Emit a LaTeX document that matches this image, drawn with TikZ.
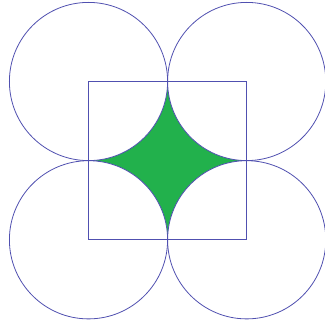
\documentclass[tikz,border=0pt]{standalone}
\definecolor{lineblue}{RGB}{80,80,176}
\definecolor{stargreen}{RGB}{34,177,76}
\tikzset{outline/.style={draw=lineblue,line width=0.8pt}}
\begin{document}
\begin{tikzpicture}[x=1pt,y=-1pt]
\useasboundingbox (0,0) rectangle (325,323);
\coordinate (A) at (88.5,81.5);
\coordinate (B) at (246.7,81.5);
\coordinate (C) at (246.7,239.8);
\coordinate (D) at (88.5,239.8);
\fill[stargreen] (A) rectangle (C);
\foreach \p in {A,B,C,D} \fill[white] (\p) circle[radius=79.1];
\foreach \p in {A,B,C,D} \draw[outline] (\p) circle[radius=79.1];
\draw[outline] (A) -- (B) -- (C) -- (D) -- cycle;
\end{tikzpicture}
\end{document}
